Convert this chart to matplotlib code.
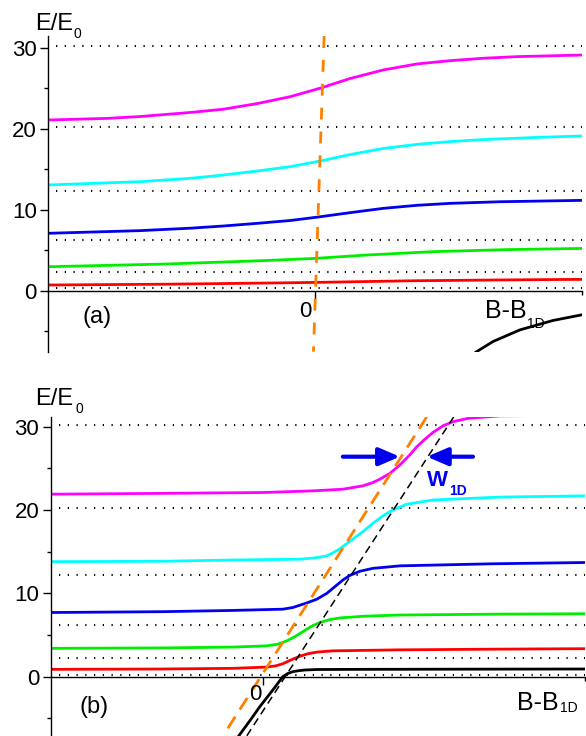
import matplotlib
matplotlib.use('Agg')
import matplotlib.pyplot as plt

plt.rcParams['font.family'] = ['Liberation Sans', 'DejaVu Sans']

# dotted reference levels (n + 1/2)^2
levels = [0.25, 2.25, 6.25, 12.25, 20.25, 30.25]
yticks_major = [0, 10, 20, 30]
yticks_minor = [-5, 5, 15, 25]

# ---- panel (a) ----
xa_red = [-2.67, -1.5, -0.5, 0.0, 0.95, 1.8, 2.67]
ya_red = [0.68, 0.78, 0.92, 1.0, 1.2, 1.3, 1.38]
xa_green = [-2.67, -1.5, -0.5, 0.0, 0.52, 1.18, 1.9, 2.67]
ya_green = [2.94, 3.27, 3.7, 3.97, 4.39, 4.8, 5.05, 5.2]
xa_blue = [-2.67, -1.75, -1.25, -0.92, -0.58, -0.25, 0.03, 0.35, 0.68, 1.02, 1.35, 1.85, 2.67]
ya_blue = [7.07, 7.4, 7.7, 7.97, 8.3, 8.65, 9.08, 9.62, 10.15, 10.53, 10.77, 10.97, 11.14]
xa_cyan = [-2.67, -1.75, -1.25, -0.92, -0.58, -0.25, 0.05, 0.35, 0.68, 1.02, 1.35, 1.68, 2.18, 2.67]
ya_cyan = [13.04, 13.45, 13.86, 14.27, 14.77, 15.3, 16.0, 16.8, 17.55, 18.06, 18.4, 18.65, 18.9, 19.1]
xa_magenta = [-2.67, -2.08, -1.75, -1.25, -0.92, -0.58, -0.25, 0.05, 0.35, 0.68, 1.02, 1.35, 1.68, 2.02, 2.35, 2.67]
ya_magenta = [21.07, 21.27, 21.5, 22.0, 22.4, 23.1, 23.95, 25.0, 26.2, 27.25, 28.0, 28.4, 28.7, 28.9, 29.0, 29.1]
xa_black = [1.61, 1.78, 2.05, 2.38, 2.67]
ya_black = [-7.6, -6.3, -4.86, -3.7, -3.0]
xa_orange = [0.09, -0.017]
ya_orange = [31.45, -7.56]

# ---- panel (b) ----
xb_black = [-0.24, -0.13, -0.03, 0.10, 0.20, 0.25, 0.30, 0.36, 0.42, 0.54, 1.0, 2.0, 3.22]
yb_black = [-7.1, -5.3, -3.6, -1.6, 0.0, 0.38, 0.6, 0.72, 0.8, 0.86, 0.88, 0.9, 0.92]
xb_red = [-2.12, -1.0, -0.3, 0.04, 0.13, 0.20, 0.28, 0.37, 0.45, 0.54, 0.70, 1.37, 2.3, 3.22]
yb_red = [0.88, 0.92, 1.0, 1.15, 1.3, 1.55, 2.0, 2.45, 2.75, 2.95, 3.1, 3.22, 3.3, 3.36]
xb_green = [-2.12, -1.0, -0.3, 0.04, 0.15, 0.24, 0.32, 0.40, 0.48, 0.57, 0.67, 0.77, 1.0, 1.37, 2.3, 3.22]
yb_green = [3.4, 3.45, 3.55, 3.7, 3.9, 4.3, 4.8, 5.4, 6.0, 6.5, 6.85, 7.05, 7.25, 7.4, 7.5, 7.55]
xb_blue = [-2.12, -1.0, -0.3, 0.20, 0.30, 0.44, 0.54, 0.64, 0.70, 0.80, 0.87, 0.97, 1.10, 1.37, 2.3, 3.22]
yb_blue = [7.7, 7.8, 7.95, 8.1, 8.3, 8.85, 9.3, 10.0, 10.6, 11.6, 12.15, 12.65, 13.0, 13.3, 13.55, 13.7]
xb_cyan = [-2.12, -1.0, -0.3, 0.37, 0.52, 0.64, 0.70, 0.77, 0.87, 1.00, 1.10, 1.20, 1.30, 1.44, 1.70, 2.37, 3.22]
yb_cyan = [13.8, 13.85, 14.0, 14.1, 14.25, 14.5, 14.85, 15.35, 16.25, 17.4, 18.4, 19.3, 20.0, 20.7, 21.2, 21.55, 21.7]
xb_magenta = [-2.12, -1.0, 0.0, 0.5, 0.8, 1.0, 1.10, 1.17, 1.27, 1.37, 1.46, 1.54, 1.62, 1.70, 1.80, 1.90, 2.05, 2.37, 2.82]
yb_magenta = [21.9, 22.0, 22.1, 22.3, 22.5, 22.9, 23.3, 23.7, 24.4, 25.4, 26.5, 27.6, 28.5, 29.3, 30.1, 30.6, 31.0, 31.3, 31.35]
xb_orange = [-0.35, 1.65]
yb_orange = [-6.2, 31.4]
xb_dash = [-0.16, 1.92]
yb_dash = [-7.1, 31.4]
# W_1D arrows (tail, tip)
arrow_left = [(0.80, 26.4), (1.37, 26.4)]
arrow_right = [(2.10, 26.4), (1.64, 26.4)]

c_red = '#ff0000'
c_green = '#00ee00'
c_blue = '#0000ee'
c_cyan = '#00ffff'
c_magenta = '#ff00ff'
c_orange = '#ff8000'

W, H = 586, 736
fig = plt.figure(figsize=(W / 100, H / 100), dpi=100)
ax_a = fig.add_axes([48.3 / W, 1 - 351.7 / H, (582 - 48.3) / W, (351.7 - 36) / H])
ax_b = fig.add_axes([50.7 / W, 0.0, (585 - 50.7) / W, (736 - 416.7) / H])


def style(ax, xlim, ylim, zero_off):
    ax.set_xlim(xlim)
    ax.set_ylim(ylim)
    for s in ['top', 'right']:
        ax.spines[s].set_visible(False)
    ax.spines['bottom'].set_position(('data', 0))
    ax.spines['left'].set_linewidth(1.0)
    ax.spines['bottom'].set_linewidth(1.0)
    ax.set_yticks(yticks_major)
    ax.set_yticks(yticks_minor, minor=True)
    ax.set_xticks([0])
    ax.set_xticks([xlim[1]], minor=True)
    ax.set_xticklabels([])
    ax.tick_params(which='major', length=5.8, width=1.0, labelsize=16, direction='out')
    ax.tick_params(which='minor', length=3, width=1.0)
    ax.tick_params(axis='y', pad=2.5)
    ax.annotate('0', xy=(0, 0), xytext=zero_off, textcoords='offset pixels',
                ha='center', va='center', fontsize=16)
    ax.hlines(levels, xlim[0] + 0.08, xlim[1], colors='k', lw=1.5,
              linestyles=[(0, (0.6, 3.6))])


style(ax_a, (-2.67, 2.67), (-7.56, 31.45), (-10, -21))
style(ax_b, (-2.12, 3.22), (-7.12, 31.2), (-8, -18))

lw = 2.0
ax_a.plot(xa_red, ya_red, color=c_red, lw=lw)
ax_a.plot(xa_green, ya_green, color=c_green, lw=lw)
ax_a.plot(xa_blue, ya_blue, color=c_blue, lw=lw)
ax_a.plot(xa_cyan, ya_cyan, color=c_cyan, lw=lw)
ax_a.plot(xa_magenta, ya_magenta, color=c_magenta, lw=lw)
ax_a.plot(xa_black, ya_black, color='k', lw=lw)
ax_a.plot(xa_orange, ya_orange, color=c_orange, lw=2.0, dashes=(4.3, 4.3))

ax_b.plot(xb_red, yb_red, color=c_red, lw=lw)
ax_b.plot(xb_green, yb_green, color=c_green, lw=lw)
ax_b.plot(xb_blue, yb_blue, color=c_blue, lw=lw)
ax_b.plot(xb_cyan, yb_cyan, color=c_cyan, lw=lw)
ax_b.plot(xb_magenta, yb_magenta, color=c_magenta, lw=lw)
ax_b.plot(xb_black, yb_black, color='k', lw=lw)
ax_b.plot(xb_dash, yb_dash, color='k', lw=1.1, dashes=(5.2, 3.2))
ax_b.plot(xb_orange, yb_orange, color=c_orange, lw=2.0, dashes=(5, 3))

for tail, tip in [arrow_left, arrow_right]:
    ax_b.annotate('', xy=tip, xytext=tail,
                  arrowprops=dict(arrowstyle='-|>,head_length=0.7,head_width=0.3',
                                  lw=3, color=c_blue, shrinkA=0, shrinkB=0,
                                  mutation_scale=18))
ax_b.text(1.64, 22.9, 'W', fontsize=16, fontweight='bold', color=c_blue, va='baseline')
ax_b.text(1.86, 21.8, '1D', fontsize=10, fontweight='bold', color=c_blue, va='baseline')

# panel labels and axis titles
ax_a.text(-2.33, -3.3, '(a)', fontsize=17, va='center')
ax_b.text(-1.83, -3.6, '(b)', fontsize=17, va='center')
ax_a.text(1.70, -3.4, 'B-B', fontsize=18, va='baseline')
ax_a.text(2.12, -4.64, '1D', fontsize=10, va='baseline')
ax_b.text(2.54, -4.0, 'B-B', fontsize=18, va='baseline')
ax_b.text(2.97, -4.2, '1D', fontsize=10, va='baseline')

fig.text(35 / W, 1 - 30 / H, 'E/E', fontsize=17, va='baseline')
fig.text(74 / W, 1 - 38 / H, '0', fontsize=10, va='baseline')
fig.text(35 / W, 1 - 405 / H, 'E/E', fontsize=17, va='baseline')
fig.text(76 / W, 1 - 413 / H, '0', fontsize=10, va='baseline')

fig.savefig('out.png', dpi=100)
